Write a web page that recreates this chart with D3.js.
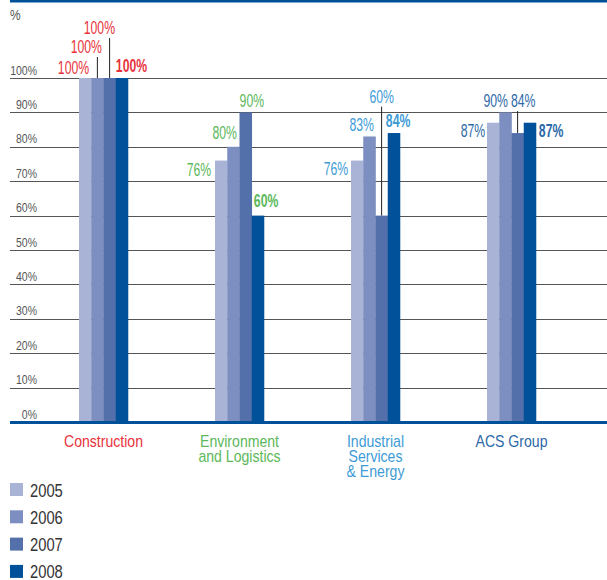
<!DOCTYPE html>
<meta charset="utf-8">
<script src="https://d3js.org/d3.v7.min.js"></script>
<style>
  body { margin: 0; background: #fff; }
  svg text { font-family: "Liberation Sans", Arial, sans-serif; }
</style>
<div id="my_dataviz"></div>
<script>
// data
var groups = ["Construction", "Environment and Logistics", "Industrial Services & Energy", "ACS Group"]
var groupLines = [["Construction"], ["Environment", "and Logistics"], ["Industrial", "Services", "& Energy"], ["ACS Group"]]
var years = ["2005", "2006", "2007", "2008"]
var construction = [100, 100, 100, 100]
var environment = [76, 80, 90, 60]
var industrial = [76, 83, 60, 84]
var acsGroup = [87, 90, 84, 87]
var yTicks = [0, 10, 20, 30, 40, 50, 60, 70, 80, 90, 100]

var values = [construction, environment, industrial, acsGroup]

// styles
var yearColors = ["#a9b3d6", "#7d8ec0", "#5470ab", "#00509a"]
var groupColors = ["#e8323c", "#5cb85a", "#3d9bd6", "#2c69a8"]

// where each value label sits: [anchor, dx from bar centre, dy from bar top, leader line]
var labelPlace = [
  [["end", 4, -4, 0], ["end", 4.6, -25, 1], ["end", 5.4, -44, 1], ["start", -6, -6, 0]],
  [["end", -10, 15, 0], ["end", 3.6, -8, 0], ["start", -6, -5, 0], ["start", -4, -9, 0]],
  [["end", -9, 14, 0], ["end", 4.6, -5, 0], ["middle", 0, -113, 1], ["start", -8, -6, 0]],
  [["end", -8, 14, 0], ["end", 2.6, -5, 0], ["start", -6.6, -26, 1], ["start", 9, 14, 0]]
]

var width = 607, height = 580

// condensed look: squeeze the text horizontally around its anchor point
function squeeze(sel, fx, fy, sx) {
  sel.attr("transform", function(d, i) {
    return "translate(" + fx.call(this, d, i) + "," + fy.call(this, d, i) + ") scale(" + sx + ",1)"
  })
}

var svg = d3.select("#my_dataviz")
  .append("svg")
  .attr("width", width)
  .attr("height", height)

var y = d3.scaleLinear().domain([0, 100]).range([422, 78])

var x0 = d3.scaleBand()
  .domain(groups)
  .range([35.5, 579.5])
  .paddingInner(0.64)
  .paddingOuter(0.32)

var x1 = d3.scaleBand()
  .domain(years)
  .range([0, x0.bandwidth()])

// top rule
svg.append("rect")
  .attr("x", 10).attr("y", 0)
  .attr("width", width - 10).attr("height", 2.5)
  .attr("fill", "#00509a")

svg.append("text")
  .attr("font-size", 14)
  .attr("fill", "#555")
  .text("%")
  .call(squeeze, function() { return 10 }, function() { return 20 }, 0.85)

// grid
var grid = svg.append("g")
grid.selectAll("line")
  .data(yTicks.filter(function(d) { return d > 0 }))
  .enter()
  .append("line")
  .attr("x1", 10).attr("x2", width)
  .attr("y1", function(d) { return Math.round(y(d)) + 0.5 })
  .attr("y2", function(d) { return Math.round(y(d)) + 0.5 })
  .attr("stroke", "#555")
  .attr("stroke-width", 1.2)

grid.selectAll("text")
  .data(yTicks)
  .enter()
  .append("text")
  .attr("text-anchor", "end")
  .attr("font-size", 12.5)
  .attr("fill", "#555")
  .text(function(d) { return d + "%" })
  .call(squeeze, function() { return 37 }, function(d) { return y(d) - 3.5 }, 0.84)

// bars
var g = svg.selectAll(".grp")
  .data(groups)
  .enter()
  .append("g")
  .attr("class", "grp")
  .attr("transform", function(d) { return "translate(" + x0(d) + ",0)" })

function cells(d, i) {
  return years.map(function(yr, j) { return { gi: i, yi: j, year: yr, value: values[i][j] } })
}

g.selectAll("rect")
  .data(cells)
  .enter()
  .append("rect")
  .attr("x", function(d) { return x1(d.year) })
  .attr("width", x1.bandwidth() + 0.3)
  .attr("y", function(d) { return y(d.value) })
  .attr("height", function(d) { return y(0) - y(d.value) })
  .attr("fill", function(d) { return yearColors[d.yi] })

// leader lines
g.selectAll(".leader")
  .data(function(d, i) { return cells(d, i).filter(function(c) { return labelPlace[c.gi][c.yi][3] }) })
  .enter()
  .append("line")
  .attr("x1", function(d) { return x1(d.year) + x1.bandwidth() / 2 })
  .attr("x2", function(d) { return x1(d.year) + x1.bandwidth() / 2 })
  .attr("y1", function(d) { return y(d.value) + labelPlace[d.gi][d.yi][2] + 4 })
  .attr("y2", function(d) { return y(d.value) })
  .attr("stroke", "#222")
  .attr("stroke-width", 1)

// value labels
g.selectAll(".val")
  .data(cells)
  .enter()
  .append("text")
  .attr("text-anchor", function(d) { return labelPlace[d.gi][d.yi][0] })
  .attr("font-size", 18)
  .attr("font-weight", function(d) { return d.yi == 3 ? "bold" : "normal" })
  .attr("fill", function(d) { return groupColors[d.gi] })
  .text(function(d) { return d.value + "%" })
  .call(squeeze,
    function(d) { return x1(d.year) + x1.bandwidth() / 2 + labelPlace[d.gi][d.yi][1] },
    function(d) { return y(d.value) + labelPlace[d.gi][d.yi][2] },
    0.68)

// baseline
svg.append("rect")
  .attr("x", 10).attr("y", y(0) - 1)
  .attr("width", width - 10).attr("height", 3)
  .attr("fill", "#00509a")

// category labels
svg.selectAll(".cat")
  .data(groups)
  .enter()
  .append("text")
  .attr("class", "cat")
  .attr("text-anchor", "middle")
  .attr("font-size", 16)
  .attr("fill", function(d, i) { return groupColors[i] })
  .call(squeeze, function(d) { return x0(d) + x0.bandwidth() / 2 }, function() { return 446.5 }, 0.88)
  .selectAll("tspan")
  .data(function(d, i) { return groupLines[i] })
  .enter()
  .append("tspan")
  .attr("x", 0)
  .attr("dy", function(d, i) { return i == 0 ? 0 : 15.5 })
  .text(function(d) { return d })

// legend
var legend = svg.selectAll(".leg")
  .data(years)
  .enter()
  .append("g")
  .attr("class", "leg")
  .attr("transform", function(d, i) { return "translate(10," + (483 + i * 27.3) + ")" })

legend.append("rect")
  .attr("width", 13).attr("height", 13)
  .attr("fill", function(d, i) { return yearColors[i] })

legend.append("text")
  .attr("font-size", 18)
  .attr("fill", "#333")
  .text(function(d) { return d })
  .call(squeeze, function() { return 20 }, function() { return 13.5 }, 0.82)
</script>
